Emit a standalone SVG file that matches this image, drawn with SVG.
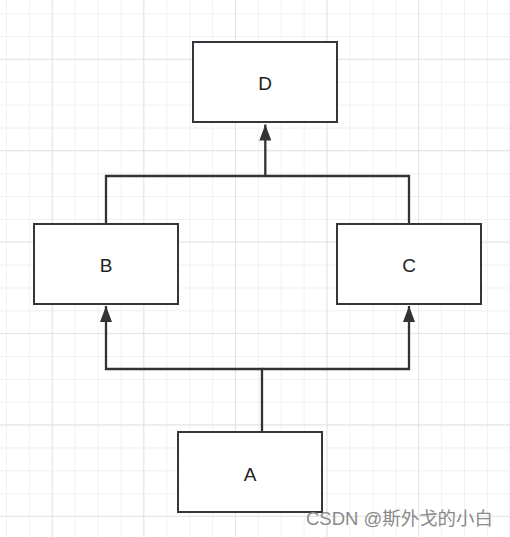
<svg xmlns="http://www.w3.org/2000/svg" width="510" height="537" viewBox="0 0 510 537">
<defs>
<pattern id="minor" x="6" y="13.3" width="22.9" height="22.85" patternUnits="userSpaceOnUse">
<path d="M0 0V22.85M0 0H22.9" fill="none" stroke="#ebebeb" stroke-width="1.3"/>
</pattern>
<pattern id="major" x="51.7" y="58.7" width="91.6" height="91.4" patternUnits="userSpaceOnUse">
<path d="M0 0V91.4M0 0H91.6" fill="none" stroke="#e0e0e0" stroke-width="1.5"/>
</pattern>
<marker id="arr" viewBox="0 0 16 12" refX="16" refY="6" markerWidth="16" markerHeight="12" markerUnits="userSpaceOnUse" orient="auto">
<path d="M0 0L16 6L0 12Z" fill="#333"/>
</marker>
</defs>
<style>
.box{fill:#fff;stroke:#33373b;stroke-width:2}
.lbl{font-family:"Liberation Sans",Arial,sans-serif;font-size:19px;fill:#222;text-anchor:middle;dominant-baseline:central}
.con{fill:none;stroke:#333;stroke-width:2.3}
</style>
<rect width="510" height="537" fill="#fff"/>
<rect width="510" height="537" fill="url(#minor)"/>
<rect width="510" height="537" fill="url(#major)"/>
<g id="connectors">
<path class="con" d="M106 224V176H409V224"/>
<path class="con" d="M265.3 176V124.5" stroke-width="3" marker-end="url(#arr)"/>
<path class="con" d="M262 432V369H106V306" marker-end="url(#arr)"/>
<path class="con" d="M262 369H409V306" marker-end="url(#arr)"/>
</g>
<g id="D"><rect class="box" x="193" y="42" width="144" height="80"/><text class="lbl" x="265" y="83">D</text></g>
<g id="B"><rect class="box" x="34" y="224" width="144" height="80"/><text class="lbl" x="106" y="265">B</text></g>
<g id="C"><rect class="box" x="337" y="224" width="144" height="80"/><text class="lbl" x="409" y="265">C</text></g>
<g id="A"><rect class="box" x="178" y="432" width="144" height="80"/><text class="lbl" x="250" y="474">A</text></g>
<text x="306" y="525" font-family="'Liberation Sans','Noto Sans CJK SC',sans-serif" font-size="18" fill="#8a8a8a" textLength="187" lengthAdjust="spacingAndGlyphs">CSDN @斯外戈的小白</text>
</svg>
